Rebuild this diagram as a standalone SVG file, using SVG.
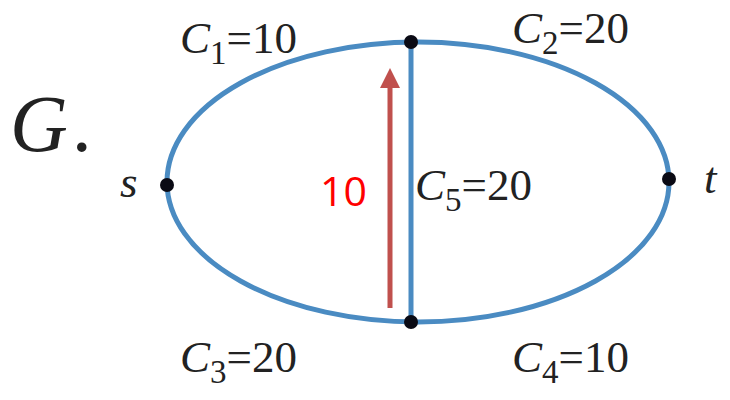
<svg xmlns="http://www.w3.org/2000/svg" width="730" height="400" viewBox="0 0 730 400">
<style>
.edge{fill:none;stroke:#4a8bc2;stroke-width:5}
.node{fill:#0a0a14}
.lbl{font-family:"Liberation Serif","Times New Roman",serif;font-size:45px;fill:#222}
.it{font-style:italic}
.sub{font-size:33px}
.flow{font-family:"Open Sans","Liberation Sans",sans-serif;font-size:41px;fill:#ff0000}
</style>
<defs>
<marker id="ah" markerWidth="4" markerHeight="4" refX="2" refY="2" orient="auto" markerUnits="strokeWidth">
<path d="M0,0 L4,2 L0,4 Z" fill="#c0504d"/>
</marker>
</defs>
<text class="lbl it" x="10" y="151" style="font-size:80px">G<tspan style="font-style:normal" dx="4">.</tspan></text>
<g id="connectors">
<ellipse class="edge" cx="418" cy="182" rx="251" ry="140"/>
<line class="edge" x1="411" y1="42" x2="411" y2="322"/>
<line x1="390" y1="308" x2="390" y2="78" stroke="#c0504d" stroke-width="5" marker-end="url(#ah)"/>
</g>
<g id="s"><circle class="node" cx="167" cy="185" r="7"/><text class="lbl it" x="120" y="197">s</text></g>
<g id="t"><circle class="node" cx="669" cy="179" r="7"/><text class="lbl it" x="704" y="193">t</text></g>
<g id="top"><circle class="node" cx="411" cy="42" r="7"/></g>
<g id="bottom"><circle class="node" cx="411" cy="322" r="7"/></g>
<g id="labels">
<text class="lbl" x="180" y="53"><tspan class="it">C</tspan><tspan class="sub" dy="11">1</tspan><tspan dy="-11">=10</tspan></text>
<text class="lbl" x="512" y="43"><tspan class="it">C</tspan><tspan class="sub" dy="11">2</tspan><tspan dy="-11">=20</tspan></text>
<text class="lbl" x="415" y="200"><tspan class="it">C</tspan><tspan class="sub" dy="11">5</tspan><tspan dy="-11">=20</tspan></text>
<text class="lbl" x="180" y="372"><tspan class="it">C</tspan><tspan class="sub" dy="11">3</tspan><tspan dy="-11">=20</tspan></text>
<text class="lbl" x="512" y="372"><tspan class="it">C</tspan><tspan class="sub" dy="11">4</tspan><tspan dy="-11">=10</tspan></text>
<text class="flow" x="320" y="206">10</text>
</g>
</svg>
